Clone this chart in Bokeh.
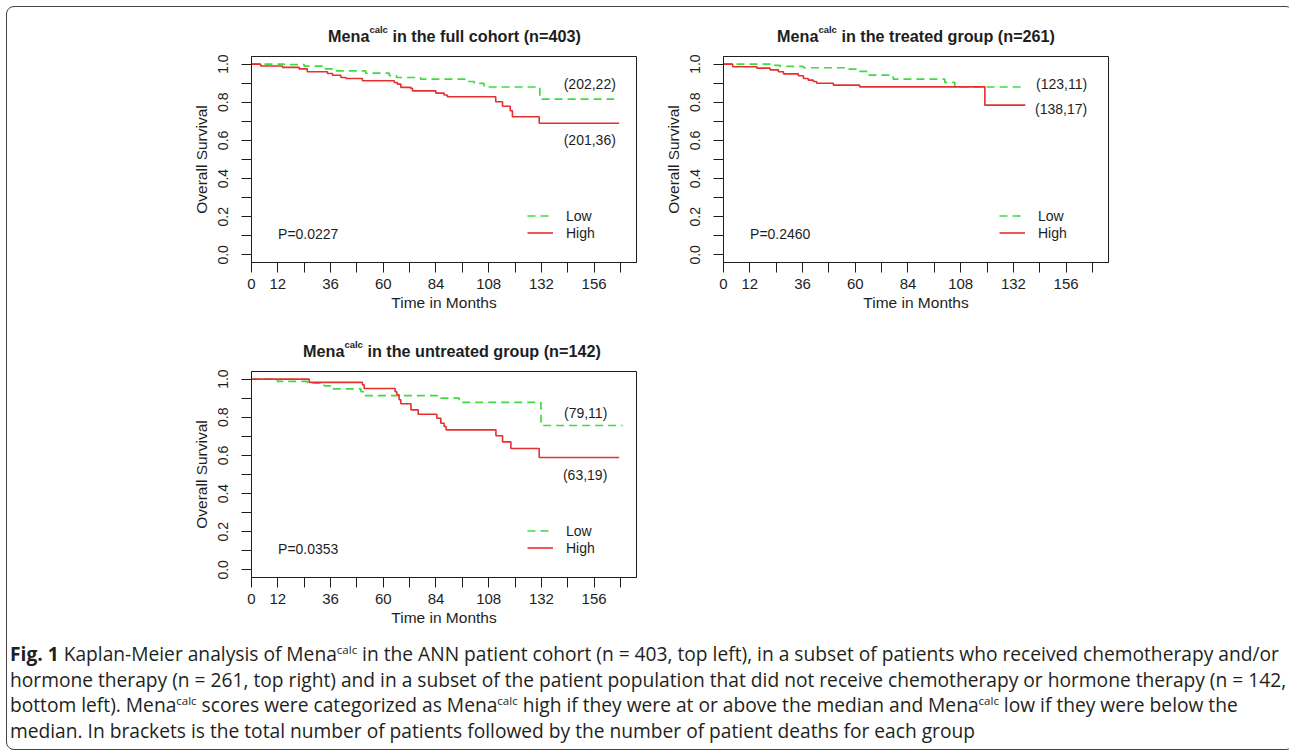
from bokeh.plotting import figure
from bokeh.models import Range1d, FixedTicker, Label, Legend, LegendItem, Div
from bokeh.layouts import column, row
from bokeh.embed import file_html
from bokeh.resources import INLINE

# ---------------- data ----------------
month_ticks = [0, 12, 24, 36, 48, 60, 72, 84, 96, 108, 120, 132, 144, 156, 168]
month_tick_labels = ["0", "12", "", "36", "", "60", "", "84", "", "108", "", "132", "", "156", ""]
surv_ticks = [0.0, 0.1, 0.2, 0.3, 0.4, 0.5, 0.6, 0.7, 0.8, 0.9, 1.0]
surv_tick_labels = ["0.0", "", "0.2", "", "0.4", "", "0.6", "", "0.8", "", "1.0"]

# full cohort (n=403)
full_low_t = [0, 15, 24, 33, 37.6, 52, 62.7, 66, 77, 98, 101.4, 105.9, 131.3, 165.1]
full_low_s = [1.0, 0.997, 0.990, 0.975, 0.965, 0.953, 0.940, 0.930, 0.921, 0.909, 0.899, 0.880, 0.817, 0.817]
full_high_t = [0, 4.2, 14.1, 21.7, 25.4, 34.6, 36.9, 40.7, 43, 50.5, 65, 66.4, 68, 72.5, 73.3,
               83.9, 87.7, 89.2, 111.2, 114.3, 117.8, 118.8, 131, 167.4]
full_high_s = [1.0, 0.990, 0.983, 0.975, 0.960, 0.951, 0.942, 0.930, 0.925, 0.913, 0.904, 0.895, 0.878, 0.873, 0.860,
               0.848, 0.838, 0.829, 0.803, 0.779, 0.756, 0.724, 0.690, 0.690]

# treated group (n=261)
trt_low_t = [0, 22.7, 25.8, 36.4, 56, 60.6, 65.9, 77.3, 100.8, 105.3, 135.9]
trt_low_s = [1.0, 0.993, 0.988, 0.981, 0.974, 0.962, 0.942, 0.921, 0.904, 0.880, 0.880]
trt_high_t = [0, 4.2, 15.2, 21.2, 25, 27.3, 34.1, 36.4, 38.6, 40.9, 42.4, 50, 62, 119, 137.4]
trt_high_s = [1.0, 0.986, 0.979, 0.970, 0.960, 0.949, 0.939, 0.925, 0.916, 0.909, 0.900, 0.890, 0.881, 0.785, 0.785]

# untreated group (n=142)
unt_low_t = [0, 11.8, 25.5, 33.1, 36.1, 49.8, 51.3, 86.2, 94.6, 131.8, 169]
unt_low_s = [1.0, 0.988, 0.979, 0.965, 0.949, 0.935, 0.913, 0.900, 0.878, 0.757, 0.757]
unt_high_t = [0, 26.3, 50.5, 51.3, 65.4, 66.2, 67.2, 68, 72.6, 75.9, 84.4, 86.2, 87.7, 88.6,
              111.3, 114.3, 118.1, 131, 167.4]
unt_high_s = [1.0, 0.983, 0.970, 0.951, 0.934, 0.918, 0.892, 0.871, 0.839, 0.816, 0.795, 0.769, 0.752, 0.734,
              0.703, 0.671, 0.636, 0.589, 0.589]

group_labels = ["Low", "High"]
panel_titles = ["in the full cohort (n=403)", "in the treated group (n=261)", "in the untreated group (n=142)"]
p_values = ["P=0.0227", "P=0.2460", "P=0.0353"]
counts_low = ["(202,22)", "(123,11)", "(79,11)"]
counts_high = ["(201,36)", "(138,17)", "(63,19)"]
# positions of count labels (time, survival)
count_low_pos = [(165.9, 0.895), (165.6, 0.895), (162.0, 0.822)]
count_high_pos = [(165.9, 0.604), (165.6, 0.764), (162.0, 0.495)]

# ---------------- style ----------------
GREEN = "#3fdc3f"
RED = "#e53030"
INK = "#1e1e1e"
FONT = "Liberation Sans"
X_MIN, X_MAX = 0, 175.3
Y_MIN, Y_MAX = -0.04, 1.04
FRAME_W, FRAME_H = 385, 206
CARD_W = 1280


def make_panel(i, low_t, low_s, high_t, high_s, left, right, top, bottom):
    p = figure(frame_width=FRAME_W, frame_height=FRAME_H,
               min_border_left=left, min_border_right=right,
               min_border_top=top, min_border_bottom=bottom,
               x_range=Range1d(X_MIN, X_MAX), y_range=Range1d(Y_MIN, Y_MAX),
               output_backend="svg", toolbar_location=None, title=None)
    p.xgrid.visible = False
    p.ygrid.visible = False
    p.outline_line_color = INK
    p.outline_line_width = 1
    p.background_fill_color = "white"
    p.border_fill_color = "white"

    for ax in (p.xaxis[0], p.yaxis[0]):
        ax.axis_line_color = INK
        ax.major_tick_line_color = INK
        ax.major_tick_in = 0
        ax.major_tick_out = 10
        ax.minor_tick_line_color = None
        ax.major_label_text_color = INK
        ax.major_label_text_font = FONT
        ax.axis_label_text_font = FONT
        ax.axis_label_text_font_style = "normal"
        ax.axis_label_text_color = INK
        ax.axis_label_text_font_size = "15.5px"

    xa = p.xaxis[0]
    xa.ticker = FixedTicker(ticks=month_ticks)
    xa.major_label_overrides = {t: l for t, l in zip(month_ticks, month_tick_labels)}
    xa.major_label_text_font_size = "15px"
    xa.major_label_standoff = 6
    xa.axis_label = "Time in Months"
    xa.axis_label_standoff = 2

    ya = p.yaxis[0]
    ya.ticker = FixedTicker(ticks=surv_ticks)
    ya.major_label_overrides = {t: l for t, l in zip(surv_ticks, surv_tick_labels)}
    ya.major_label_text_font_size = "14px"
    ya.major_label_orientation = "vertical"
    ya.major_label_standoff = 13
    ya.axis_label = "Overall Survival"
    ya.axis_label_standoff = 6

    r_low = p.step(low_t, low_s, mode="after", line_color=GREEN, line_width=1.7, line_dash="8 5")
    r_high = p.step(high_t, high_s, mode="after", line_color=RED, line_width=1.6)

    legend = Legend(items=[LegendItem(label=group_labels[0], renderers=[r_low]),
                           LegendItem(label=group_labels[1], renderers=[r_high])],
                    location=(276, 21), border_line_color=None, background_fill_alpha=0,
                    padding=0, margin=0, spacing=0, glyph_width=26, glyph_height=17,
                    label_height=17, label_standoff=13, label_text_font_size="14px",
                    label_text_font=FONT, label_text_color=INK)
    p.add_layout(legend)

    # p-value and counts
    p.add_layout(Label(x=12.1, y=0.11, text=p_values[i], text_align="left", text_baseline="middle",
                       text_font=FONT, text_font_size="14px", text_color=INK))
    lx, ly = count_low_pos[i]
    p.add_layout(Label(x=lx, y=ly, text=counts_low[i], text_align="right", text_baseline="middle",
                       text_font=FONT, text_font_size="14px", text_color=INK))
    hx, hy = count_high_pos[i]
    p.add_layout(Label(x=hx, y=hy, text=counts_high[i], text_align="right", text_baseline="middle",
                       text_font=FONT, text_font_size="14px", text_color=INK))
    return p


def title_span(i, left, top):
    return ('<span style="position:absolute;left:%dpx;top:%dpx;white-space:nowrap;'
            'font-family:\'Liberation Sans\';font-weight:bold;font-size:16.2px;line-height:18px;color:%s;">'
            'Mena<span style="font-size:9.5px;position:relative;top:-9px;">calc</span> %s</span>'
            % (left, top, INK, panel_titles[i]))


def title_div(spans, height):
    html = ('<div style="position:relative;width:%dpx;height:%dpx;">' % (CARD_W, height)
            + "".join(spans) + '</div>')
    return Div(text=html, width=CARD_W, height=height, margin=0)


top_titles = title_div([title_span(0, 321, 20), title_span(1, 770, 20)], 40)
p1 = make_panel(0, full_low_t, full_low_s, full_high_t, full_high_s, 244, 25, 9, 67)
p2 = make_panel(1, trt_low_t, trt_low_s, trt_high_t, trt_high_s, 56, 185, 9, 67)
mid_titles = title_div([title_span(2, 296, 13)], 32)
p3 = make_panel(2, unt_low_t, unt_low_s, unt_high_t, unt_high_s, 244, 25, 10, 50)

SUP = '<sup style="font-size:11.5px;line-height:0;">calc</sup>'
caption_html = (
    '<div style="font-family:\'Open Sans\';font-size:19.2px;line-height:25.7px;color:#231f20;'
    'white-space:nowrap;padding:13px 0 0 3px;">'
    '<b>Fig. 1</b> Kaplan-Meier analysis of Mena' + SUP + ' in the ANN patient cohort (n = 403, top left), '
    'in a subset of patients who received chemotherapy and/or<br>'
    'hormone therapy (n = 261, top right) and in a subset of the patient population that did not receive '
    'chemotherapy or hormone therapy (n = 142,<br>'
    'bottom left). Mena' + SUP + ' scores were categorized as Mena' + SUP + ' high if they were at or above the '
    'median and Mena' + SUP + ' low if they were below the<br>'
    'median. In brackets is the total number of patients followed by the number of patient deaths for each group'
    '</div>'
)
caption = Div(text=caption_html, width=CARD_W, height=121, margin=0)

layout = column(top_titles, row(p1, p2), mid_titles, p3, caption,
                styles={"border": "1px solid #444", "border-radius": "8px", "background": "white",
                        "margin": "6px 0 0 6px"})

open("out.html", "w").write(file_html(layout, INLINE))
